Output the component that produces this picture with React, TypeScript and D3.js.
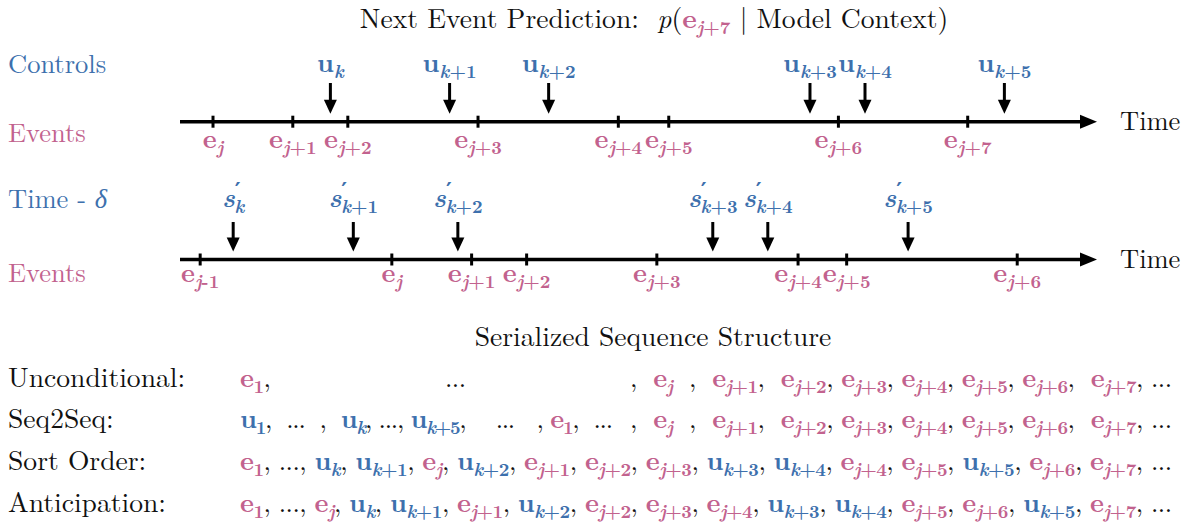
import React from "react";
import * as d3 from "d3";

const BLUE = "#3d70ad";
const PINK = "#c2628e";
const FONT = '"Latin Modern Roman"';

// positions along the time axis (0 = axis start, 100 = arrow tip)
const topEventTimes = [3.6, 12.3, 18.3, 32.5, 47.8, 53.3, 71.8, 85.9];
const topEventSubs = ["j", "j+1", "j+2", "j+3", "j+4", "j+5", "j+6", "j+7"];
const topControlTimes = [16.4, 29.4, 40.2, 68.7, 74.7, 89.9];
const controlSubs = ["k", "k+1", "k+2", "k+3", "k+4", "k+5"];

const bottomEventTimes = [2.2, 23.1, 31.8, 37.8, 52.0, 67.4, 72.7, 91.3];
const bottomEventSubs = ["j-1", "j", "j+1", "j+2", "j+3", "j+4", "j+5", "j+6"];
const bottomShiftTimes = [5.8, 18.9, 30.3, 58.1, 64.1, 79.4];

// serialized sequences: e[..] = event, u[..] = control
const rowLabels = ["Unconditional:", "Seq2Seq:", "Sort Order:", "Anticipation:"];
const rowLeft = [
  "e[1],                     ...",
  "u[1],  ...  ,  u[k], ..., u[k+5],    ...   , e[1],  ...",
  "e[1], ..., u[k], u[k+1], e[j], u[k+2], e[j+1], e[j+2], e[j+3], u[k+3], u[k+4], e[j+4], e[j+5], u[k+5], e[j+6], e[j+7], ...",
  "e[1], ..., e[j], u[k], u[k+1], e[j+1], u[k+2], e[j+2], e[j+3], e[j+4], u[k+3], u[k+4], e[j+5], e[j+6], u[k+5], e[j+7], ...",
];
const rowRight = [
  ",  e[j]  ,  e[j+1],  e[j+2], e[j+3], e[j+4], e[j+5], e[j+6],  e[j+7], ...",
  ",  e[j]  ,  e[j+1],  e[j+2], e[j+3], e[j+4], e[j+5], e[j+6],  e[j+7], ...",
  "",
  "",
];
// horizontal extent each row part occupies in the reference
const rowLeftWidth = [226, 373, 932, 932];
const rowRightWidth = [542, 542, 0, 0];

const FS = 26.5;
const FS_TEXT = 27.6;
const SUB = 18.5;

function Sub({ s, color, dx = 0 }: { s: string; color: string; dx?: number }) {
  const parts = s.match(/[a-z]+|[^a-z]+/g) || [];
  return (
    <>
      {parts.map((p, i) => (
        <tspan
          key={i}
          dx={i === 0 ? dx : undefined}
          fill={color}
          fontWeight="bold"
          fontSize={SUB}
          fontStyle={/[a-z]/.test(p) ? "italic" : "normal"}
          baselineShift={-6}
        >
          {p}
        </tspan>
      ))}
    </>
  );
}

function Sym({ base, sub, color }: { base: string; sub: string; color: string }) {
  if (base === "s") {
    return (
      <>
        <tspan fill={color} fontWeight="bold" fontStyle="italic">s</tspan>
        <tspan
          fill={color}
          fontWeight="bold"
          fontSize={22}
          baselineShift={9}
          style={{ fontFamily: '"DejaVu Sans"' }}
        >
          ′
        </tspan>
        <Sub s={sub} color={color} dx={-6} />
      </>
    );
  }
  return (
    <>
      <tspan fill={color} fontWeight="bold">{base}</tspan>
      <Sub s={sub} color={color} />
    </>
  );
}

function Seq({ src }: { src: string }) {
  const bits = src.split(/([eu])\[([^\]]+)\]/);
  const out: React.ReactNode[] = [];
  for (let i = 0; i < bits.length; i += 3) {
    if (bits[i]) out.push(<tspan key={"t" + i} fill="#111">{bits[i]}</tspan>);
    if (i + 2 < bits.length) {
      const b = bits[i + 1];
      out.push(<Sym key={"s" + i} base={b} sub={bits[i + 2]} color={b === "e" ? PINK : BLUE} />);
    }
  }
  return <>{out}</>;
}

function Timeline({
  axisY, events, eventSubs, marks, markBase, markSubs, labelY, arrowTop, eventLabelY,
}: {
  axisY: number; events: number[]; eventSubs: string[]; marks: number[]; markBase: string;
  markSubs: string[]; labelY: number; arrowTop: number; eventLabelY: number;
}) {
  const x = d3.scaleLinear().domain([0, 100]).range([180, 1097]);
  const tip = x(100);
  const head = 12;
  return (
    <g>
      <line x1={x(0)} x2={tip - 10} y1={axisY} y2={axisY} stroke="#000" strokeWidth={3.5} />
      <path d={`M${tip},${axisY} L${tip - 17},${axisY - 7} L${tip - 17},${axisY + 7} Z`} fill="#000" />
      {events.map((t, i) => (
        <g key={i}>
          <line x1={x(t)} x2={x(t)} y1={axisY - 6} y2={axisY + 6} stroke="#000" strokeWidth={3} />
          <text x={x(t)} y={eventLabelY} textAnchor="middle" fontSize={FS}>
            <Sym base="e" sub={eventSubs[i]} color={PINK} />
          </text>
        </g>
      ))}
      {marks.map((t, i) => (
        <g key={i}>
          <line x1={x(t)} x2={x(t)} y1={arrowTop} y2={axisY - 8 - head + 2} stroke="#000" strokeWidth={3} />
          <path
            d={`M${x(t)},${axisY - 8} L${x(t) - 6.5},${axisY - 8 - head - 2} L${x(t) + 6.5},${axisY - 8 - head - 2} Z`}
            fill="#000"
          />
          <text x={x(t)} y={labelY} textAnchor="middle" fontSize={FS}>
            <Sym base={markBase} sub={markSubs[i]} color={BLUE} />
          </text>
        </g>
      ))}
    </g>
  );
}

export default function App() {
  const rowY = [387, 428, 470, 512];
  return (
    <svg
      width={1185}
      height={525}
      style={{ position: "absolute", left: 0, top: 0, background: "#fff", fontFamily: FONT }}
    >
      <text x={654} y={28} textAnchor="middle" fontSize={FS_TEXT} fill="#111" style={{ whiteSpace: "pre" }}>
        <tspan>Next Event Prediction:  </tspan>
        <tspan fontStyle="italic">p</tspan>
        <tspan>(</tspan>
        <Sym base="e" sub="j+7" color={PINK} />
        <tspan> | Model Context)</tspan>
      </text>

      <text x={8} y={73} fontSize={FS} fill={BLUE}>Controls</text>
      <text x={8} y={142} fontSize={FS} fill={PINK}>Events</text>
      <text x={8} y={208} fontSize={FS} fill={BLUE} style={{ whiteSpace: "pre" }}>
        Time - <tspan fontStyle="italic">δ</tspan>
      </text>
      <text x={8} y={282} fontSize={FS} fill={PINK}>Events</text>
      <text x={1120} y={130} fontSize={FS} fill="#111">Time</text>
      <text x={1120} y={268} fontSize={FS} fill="#111">Time</text>

      <Timeline
        axisY={121.7}
        events={topEventTimes}
        eventSubs={topEventSubs}
        marks={topControlTimes}
        markBase="u"
        markSubs={controlSubs}
        labelY={72}
        arrowTop={83}
        eventLabelY={148}
      />
      <Timeline
        axisY={259.5}
        events={bottomEventTimes}
        eventSubs={bottomEventSubs}
        marks={bottomShiftTimes}
        markBase="s"
        markSubs={controlSubs}
        labelY={207}
        arrowTop={222}
        eventLabelY={282}
      />

      <text x={653} y={346} textAnchor="middle" fontSize={FS_TEXT} fill="#111">
        Serialized Sequence Structure
      </text>

      {rowLabels.map((l, i) => (
        <g key={l}>
          <text x={8} y={rowY[i]} fontSize={FS_TEXT} fill="#111">{l}</text>
          <text
            x={240}
            y={rowY[i]}
            fontSize={FS}
            textLength={rowLeftWidth[i]}
            lengthAdjust="spacing"
            style={{ whiteSpace: "pre" }}
          >
            <Seq src={rowLeft[i]} />
          </text>
          {rowRight[i] && (
            <text
              x={1172 - rowRightWidth[i]}
              y={rowY[i]}
              fontSize={FS}
              textLength={rowRightWidth[i]}
              lengthAdjust="spacing"
              style={{ whiteSpace: "pre" }}
            >
              <Seq src={rowRight[i]} />
            </text>
          )}
        </g>
      ))}
    </svg>
  );
}
